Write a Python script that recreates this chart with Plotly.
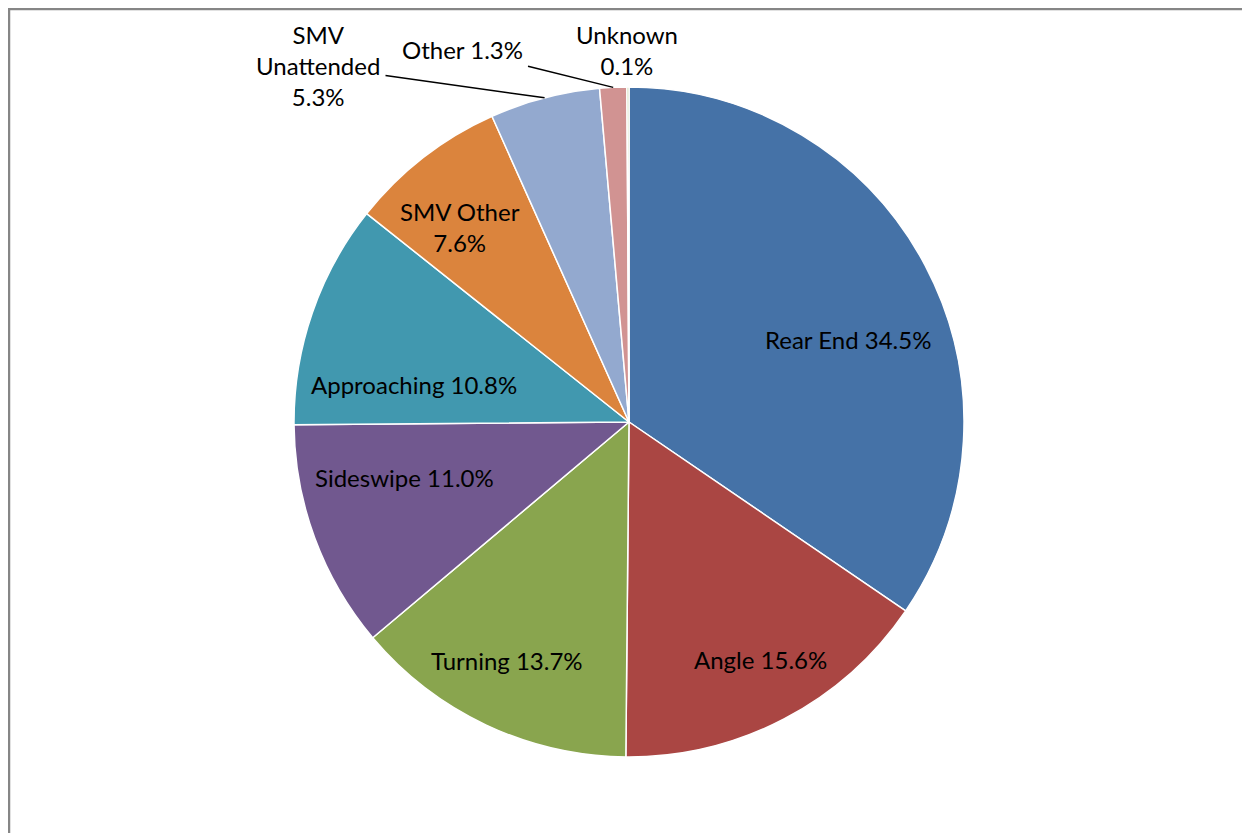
import math
import plotly.graph_objects as go

labels = ["Rear End", "Angle", "Turning", "Sideswipe", "Approaching",
          "SMV Other", "SMV Unattended", "Other", "Unknown"]
values = [34.5, 15.6, 13.7, 11.0, 10.8, 7.6, 5.3, 1.3, 0.1]
colors = ["#4572A7", "#AA4643", "#89A54E", "#71588F", "#4198AF",
          "#DB843D", "#93A9CF", "#D19392", "#B9CD96"]
label_text = ["Rear End 34.5%", "Angle 15.6%", "Turning 13.7%", "Sideswipe 11.0%",
              "Approaching 10.8%", "SMV Other<br>7.6%", "SMV<br>Unattended<br>5.3%",
              "Other 1.3%", "Unknown<br>0.1%"]

W, H = 1250, 833
OFF = 8  # page body margin
cx, cy, R = 629 - OFF, 422 - OFF, 335  # pie centre / radius in px

# inside label placement: (radius factor, angle shift in degrees) -- layout only
inside_pos = {0: (0.70, 7.2), 1: (0.81, -1.3), 2: (0.80, 1.8), 3: (0.69, 6.3),
              4: (0.65, -9.2), 5: (0.77, -3.0)}
# outside label text centres (px)
outside_text = {6: (318 - OFF, 66 - OFF), 7: (462 - OFF, 50 - OFF), 8: (627 - OFF, 50 - OFF)}

fig = go.Figure(go.Pie(
    labels=labels, values=values, sort=False, direction="clockwise",
    textinfo="none", hoverinfo="label+percent",
    marker=dict(colors=colors, line=dict(color="white", width=1.5)),
    domain=dict(x=[(cx - R) / W, (cx + R) / W], y=[(H - cy - R) / H, (H - cy + R) / H]),
    showlegend=False,
))

total = sum(values)
cum = 0
annots = []
for i, v in enumerate(values):
    mid = (cum + v / 2) / total * 2 * math.pi
    cum += v
    if i in inside_pos:
        f, dth = inside_pos[i]
        a = mid + math.radians(dth)
        px, py = cx + f * R * math.sin(a), cy - f * R * math.cos(a)
        annots.append(dict(x=px / W, y=1 - py / H, xref="paper", yref="paper",
                           xanchor="center", yanchor="middle",
                           text=label_text[i], showarrow=False))
    elif i == 8:
        tx, ty = outside_text[i]
        annots.append(dict(x=tx / W, y=1 - ty / H, xref="paper", yref="paper",
                           xanchor="center", yanchor="middle",
                           text=label_text[i], showarrow=False))
    else:
        ex, ey = cx + R * math.sin(mid), cy - R * math.cos(mid)
        tx, ty = outside_text[i]
        annots.append(dict(x=ex / W, y=1 - ey / H, xref="paper", yref="paper",
                           text=label_text[i], showarrow=True, borderpad=5,
                           arrowhead=0, arrowwidth=1.5, arrowcolor="black",
                           ax=tx - ex, ay=ty - ey))

fig.update_layout(
    width=W, height=H, margin=dict(l=0, r=0, t=0, b=0),
    paper_bgcolor="white", plot_bgcolor="white",
    font=dict(family="Lato, Carlito, Calibri, sans-serif", size=24, color="black"),
    annotations=annots,
    shapes=[dict(type="rect", xref="paper", yref="paper",
                 x0=1 / W, x1=1.05, y0=-0.05, y1=1 - 1 / H,
                 line=dict(color="#868686", width=2.5))],
)

fig.write_html("out.html")
